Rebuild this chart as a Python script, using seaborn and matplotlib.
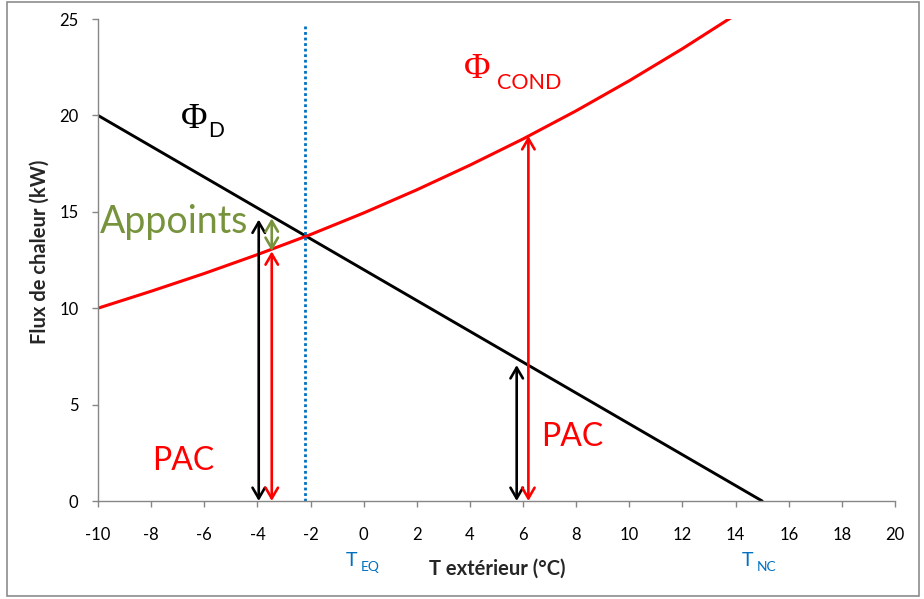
import matplotlib
matplotlib.use("Agg")
import matplotlib.pyplot as plt
from matplotlib.patches import Rectangle
import numpy as np
import pandas as pd
import seaborn as sns

# Heat demand of the building (Phi_D) versus outdoor temperature
t_demand = [-10, 15]
phi_demand = [20.0, 0.0]

# Heat delivered by the heat pump condenser (Phi_COND)
t_cond = [-10, -8, -6, -4, -2, 0, 2, 4, 6, 8, 10, 12, 14]
phi_cond = [10.0, 10.88, 11.80, 12.78, 13.82, 14.94, 16.14, 17.42, 18.78,
            20.24, 21.80, 23.46, 25.22]

# Balance temperature
t_eq = -2.2

# Vertical double arrows: x position, bottom, top
arrows_black_x = [-3.95, 5.76]
arrows_black_top = [14.6, 7.05]
arrows_red_x = [-3.46, 6.2]
arrows_red_top = [12.95, 18.93]
appoint_x = -3.46
appoint_range = [12.97, 14.66]

x_ticks = list(range(-10, 21, 2))
y_ticks = list(range(0, 26, 5))

sns.set_theme(style="white")
plt.rcParams["font.family"] = ["Lato", "DejaVu Sans"]

fig = plt.figure(figsize=(9.24, 5.99), dpi=100)
ax = fig.add_axes([98 / 924, 1 - 501 / 599, (895 - 98) / 924, (501 - 19) / 599])

df_d = pd.DataFrame({"T": t_demand, "Phi": phi_demand})
df_c = pd.DataFrame({"T": t_cond, "Phi": phi_cond})
sns.lineplot(data=df_d, x="T", y="Phi", color="black", lw=2.1, ax=ax)
sns.lineplot(data=df_c, x="T", y="Phi", color="#FF0000", lw=2.2, ax=ax)

ax.axvline(t_eq, ymin=0, ymax=0.99, color="#0070C0", lw=2.0, ls=(0, (1, 1)))

def varrow(x, y0, y1, color):
    ax.annotate("", xy=(x, y1), xytext=(x, y0),
                arrowprops=dict(arrowstyle="<->,head_length=0.55,head_width=0.32",
                                color=color, lw=1.9, shrinkA=0, shrinkB=0,
                                mutation_scale=14))

for x, top in zip(arrows_black_x, arrows_black_top):
    varrow(x, 0, top, "black")
for x, top in zip(arrows_red_x, arrows_red_top):
    varrow(x, 0, top, "#FF0000")
varrow(appoint_x, appoint_range[0], appoint_range[1], "#77933C")

ax.set_xlim(-10, 20)
ax.set_ylim(0, 25)
ax.set_xticks(x_ticks)
ax.set_yticks(y_ticks)
ax.set_xticklabels([str(v) for v in x_ticks])
ax.set_yticklabels([str(v) for v in y_ticks])
for s in ["top", "right"]:
    ax.spines[s].set_visible(False)
for s in ["left", "bottom"]:
    ax.spines[s].set_color("#868686")
    ax.spines[s].set_linewidth(1.0)
ax.tick_params(axis="both", which="major", direction="out", length=4,
               width=1.0, color="#868686", labelsize=12, labelcolor="black",
               bottom=True, left=True)
ax.tick_params(axis="x", pad=15)
ax.tick_params(axis="y", pad=10)
ax.set_xlabel("")
ax.set_ylabel("")

fig.text(497 / 924, 1 - 569 / 599, "T extérieur (°C)", ha="center", va="center",
         fontsize=14.5, fontweight="bold")
fig.text(40 / 924, 1 - 252 / 599, "Flux de chaleur (kW)", ha="center", va="center",
         rotation=90, fontsize=14.5, fontweight="bold")

# Curve names
serif = ["Liberation Serif", "DejaVu Serif"]
fig.text(181 / 924, 1 - 119 / 599, "Φ", ha="left", va="center", fontsize=26,
         family=serif, color="black")
fig.text(208 / 924, 1 - 131 / 599, "D", ha="left", va="center", fontsize=15,
         color="black")
fig.text(464 / 924, 1 - 69 / 599, "Φ", ha="left", va="center", fontsize=26,
         family=serif, color="#FF0000")
fig.text(497 / 924, 1 - 83 / 599, "COND", ha="left", va="center", fontsize=15.5,
         color="#FF0000")

fig.text(100 / 924, 1 - 222 / 599, "Appoints", ha="left", va="center",
         fontsize=27, color="#77933C")
fig.text(152 / 924, 1 - 461 / 599, "PAC", ha="left", va="center",
         fontsize=23, color="#FF0000")
fig.text(541 / 924, 1 - 437 / 599, "PAC", ha="left", va="center",
         fontsize=23, color="#FF0000")

# Temperature markers under the axis
fig.text(346 / 924, 1 - 560 / 599, "T", ha="left", va="center", fontsize=14,
         color="#0070C0")
fig.text(361 / 924, 1 - 567 / 599, "EQ", ha="left", va="center", fontsize=10,
         color="#0070C0")
fig.text(742 / 924, 1 - 560 / 599, "T", ha="left", va="center", fontsize=14,
         color="#0070C0")
fig.text(757 / 924, 1 - 567 / 599, "NC", ha="left", va="center", fontsize=10,
         color="#0070C0")

fig.patches.append(Rectangle((7 / 924, 1 - 596 / 599), 912 / 924, 594 / 599,
                             transform=fig.transFigure, fill=False,
                             edgecolor="#8C8C8C", lw=1.2))

fig.savefig("out.png", dpi=100)
